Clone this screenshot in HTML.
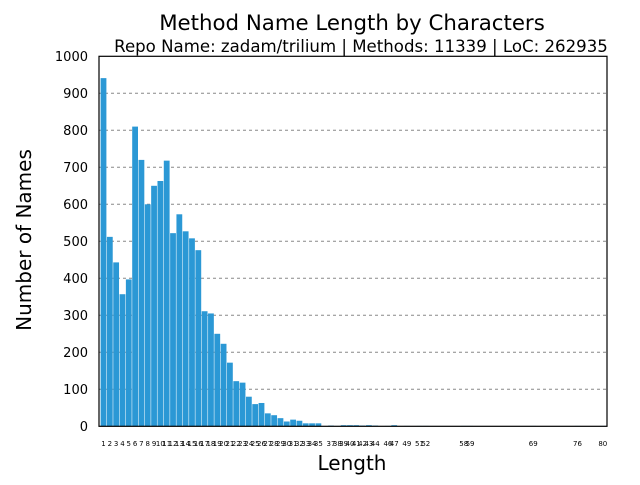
<!DOCTYPE html>
<html><head><meta charset="utf-8"><style>
body{margin:0;background:#fff;}
svg text{font-family:"DejaVu Sans","Liberation Sans",sans-serif;}
</style></head><body>
<svg width="640" height="480" id="chart" xmlns="http://www.w3.org/2000/svg">
<text x="352" y="30" font-size="21.3" text-anchor="middle">Method Name Length by Characters</text>
<text x="361" y="52" font-size="16.6" text-anchor="middle">Repo Name: zadam/trilium | Methods: 11339 | LoC: 262935</text>
<text x="352" y="470" font-size="20" text-anchor="middle">Length</text>
<text transform="translate(31,240) rotate(-90)" font-size="20" text-anchor="middle">Number of Names</text>
<g id="grid"></g><g id="bars"></g><g id="yticks"></g><g id="xticks"></g>
<rect x="99" y="56.3" width="508" height="370" fill="none" stroke="#000" stroke-width="1.2"/>
</svg>
<script>
const lengths=[1,2,3,4,5,6,7,8,9,10,11,12,13,14,15,16,17,18,19,20,21,22,23,24,25,26,27,28,29,30,31,32,33,34,35,37,38,39,40,41,42,43,44,46,47,49,51,52,58,59,69,76,80];
const counts=[941,512,443,357,397,810,720,600,650,663,718,522,573,527,508,476,311,305,250,223,172,122,118,80,60,63,35,30,22,13,18,15,8,8,8,2,1,3,3,3,2,3,2,1,3,1,1,1,1,1,1,1,1];
const yTicks=[0,100,200,300,400,500,600,700,800,900,1000];
const NS="http://www.w3.org/2000/svg";
const x0=103.5,xStep=6.32,yBase=426.3,yScale=0.37;
const xs=v=>x0+(v-1)*xStep;
const ys=v=>yBase-v*yScale;
function mk(t,a,p){const e=document.createElementNS(NS,t);for(const k in a)e.setAttribute(k,a[k]);document.getElementById(p).appendChild(e);return e;}
yTicks.forEach(t=>{
  if(t>0&&t<1000){const g=mk('line',{x1:99,x2:607,y1:ys(t),y2:ys(t),stroke:'#888','stroke-dasharray':'3,3'},'grid');
  
  }
  const l=mk('text',{x:88,y:ys(t)+4.5,'font-size':13,'text-anchor':'end'},'yticks');l.textContent=t;
  
  
});
lengths.forEach((L,i)=>{
  const b=mk('rect',{x:xs(L)-2.9,y:ys(counts[i]),width:5.8,height:counts[i]*yScale,fill:'#2b98d5'},'bars');
  
  
  const t=mk('text',{x:xs(L),y:446,'font-size':7,'text-anchor':'middle'},'xticks');t.textContent=L;
  
  
});
</script>
</body></html>
